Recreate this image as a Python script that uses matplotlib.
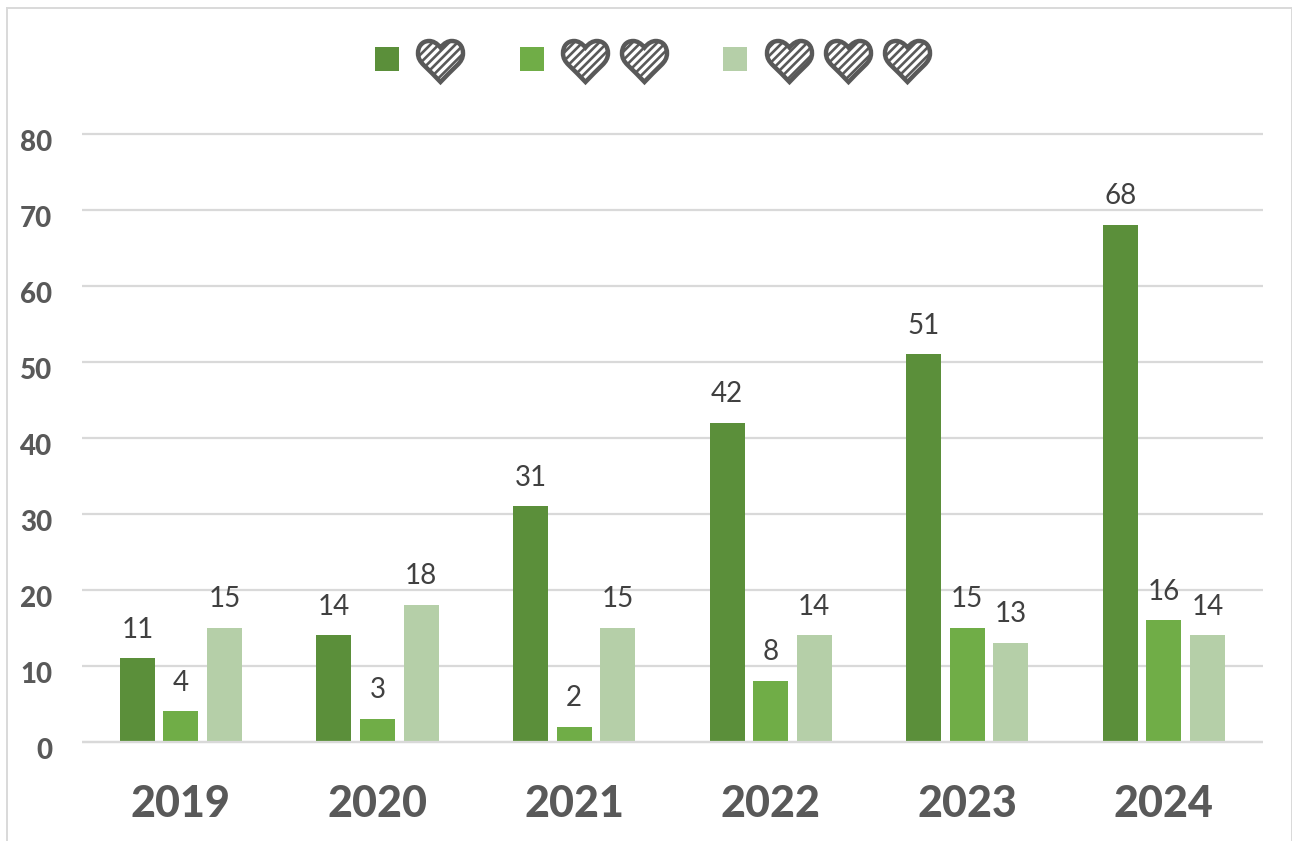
import matplotlib
matplotlib.use("Agg")
import matplotlib.pyplot as plt
import numpy as np
from matplotlib.path import Path
from matplotlib.patches import PathPatch, Rectangle
from matplotlib.lines import Line2D
from matplotlib.transforms import Affine2D, ScaledTranslation

years = ["2019", "2020", "2021", "2022", "2023", "2024"]
one_heart = [11, 14, 31, 42, 51, 68]
two_hearts = [4, 3, 2, 8, 15, 16]
three_hearts = [15, 18, 15, 14, 13, 14]
series = [one_heart, two_hearts, three_hearts]
colors = ["#5B8F3A", "#70AD47", "#B5CFA8"]
y_ticks = [0, 10, 20, 30, 40, 50, 60, 70, 80]

W, H = 1292, 841
plt.rcParams["font.family"] = ["Lato", "DejaVu Sans"]
plt.rcParams["hatch.linewidth"] = 1.9
fig = plt.figure(figsize=(W / 100, H / 100), dpi=100, facecolor="white")
ax = fig.add_axes([82 / W, 1 - 741.7 / H, (1263 - 82) / W, 608 / H])

x = np.arange(len(years))
bar_w, step = 0.178, 0.2213
for i, (vals, col) in enumerate(zip(series, colors)):
    offs = x + (i - 1) * step
    ax.bar(offs, vals, bar_w, color=col, zorder=2)
    for xx, v in zip(offs, vals):
        ax.annotate(str(v), (xx, v), xytext=(0, 20.5), textcoords="offset points",
                    ha="center", va="center", fontsize=20, color="#404040")

ax.set_xlim(-0.503, 5.504)
ax.set_ylim(0, 80)
ax.set_yticks(y_ticks)
ax.set_xticks(x, years)
ax.grid(axis="y", color="#D9D9D9", lw=1.6, zorder=1, clip_on=False, solid_capstyle="butt")
ax.set_axisbelow(True)
for s in ("top", "right", "left"):
    ax.spines[s].set_visible(False)
ax.spines["bottom"].set_color("#D9D9D9")
ax.spines["bottom"].set_linewidth(1.6)
ax.spines["bottom"].set_capstyle("butt")
ax.spines["bottom"].set_zorder(3)
ax.tick_params(axis="both", length=0)
ax.tick_params(axis="y", pad=21.5, labelcolor="#595959", labelsize=20)
ax.tick_params(axis="x", pad=30.5, labelcolor="#595959", labelsize=31)
shift = ScaledTranslation(0, -7 / 100, fig.dpi_scale_trans)
for t in ax.get_yticklabels():
    t.set_fontweight("black")
    t.set_transform(t.get_transform() + shift)
for t in ax.get_xticklabels():
    t.set_fontweight("black")

# chart border, in pixels of the image
px = Affine2D().scale(1, -1).translate(0, H)
for xs, ys in [((7, 7), (8, H)), ((7, 1291.5), (8, 8)), ((1291.5, 1291.5), (8, H))]:
    fig.add_artist(Line2D(xs, ys, color="#D9D9D9", lw=1.4, transform=px))

# legend: swatch + hatched hearts
heart = Path(
    [(0.5, 0.84),
     (0.42, 0.95), (0.33, 1.0), (0.25, 1.0),
     (0.08, 1.0), (0.0, 0.86), (0.0, 0.7),
     (0.0, 0.58), (0.05, 0.5), (0.12, 0.42),
     (0.25, 0.28), (0.38, 0.14), (0.5, 0.0),
     (0.62, 0.14), (0.75, 0.28), (0.88, 0.42),
     (0.95, 0.5), (1.0, 0.58), (1.0, 0.7),
     (1.0, 0.86), (0.92, 1.0), (0.75, 1.0),
     (0.67, 1.0), (0.58, 0.95), (0.5, 0.84),
     (0.5, 0.84)],
    [Path.MOVETO] + [Path.CURVE4] * 24 + [Path.CLOSEPOLY])

legend_swatches = [375, 520, 723]
legend_hearts = [[416], [561, 620], [765, 824, 883]]
for sx, hs, col in zip(legend_swatches, legend_hearts, colors):
    fig.add_artist(Rectangle((sx, 47), 24, 24, fc=col, ec="none", transform=px))
    for hx in hs:
        tr = Affine2D().scale(45, -41).translate(hx + 2, 82) + px
        fig.add_artist(PathPatch(heart, fc="white", ec="#595959", lw=3.2, hatch="////",
                                 joinstyle="miter", transform=tr))

fig.savefig("out.png", dpi=100)
